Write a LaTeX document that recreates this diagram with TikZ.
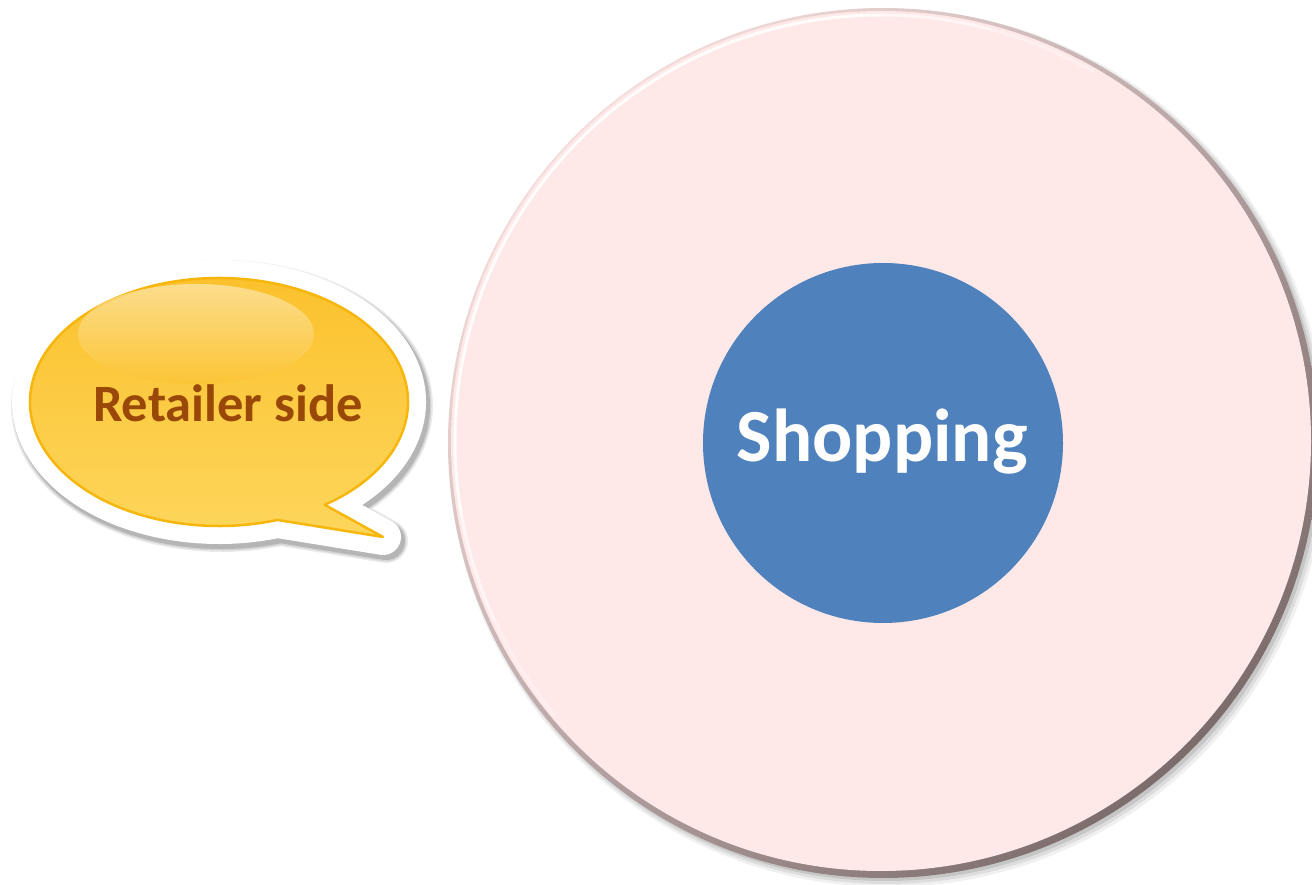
\documentclass[tikz,border=0pt]{standalone}
\usepackage{fontspec}
\setmainfont{Carlito}
\usetikzlibrary{calc}
\definecolor{pinkfill}{HTML}{FFE9E8}
\definecolor{rimlight}{HTML}{F4DCDC}
\definecolor{rimdark}{HTML}{7C6C6C}
\definecolor{blueball}{HTML}{4F81BD}
\definecolor{yeltop}{HTML}{FBC02A}
\definecolor{yelbot}{HTML}{FDD65C}
\definecolor{yelborder}{HTML}{F7B60C}
\definecolor{browntext}{HTML}{9A4807}
\tikzset{
  bigtext/.style={font=\bfseries\fontsize{75}{84}\selectfont, text=white},
  bubbletext/.style={font=\bfseries\fontsize{52.5}{58}\selectfont, text=browntext},
  bubshadow/.style={black, line join=round, shift={(3,-4)}},
}
\begin{document}
\begin{tikzpicture}[x=1pt,y=1pt]
\useasboundingbox (0,0) rectangle (1312,884);
\clip (0,0) rectangle (1312,884);
% ---------- big circle ----------
\fill[black,opacity=0.06] (888,436) circle (439);
\fill[black,opacity=0.08] (887,437) circle (437);
\fill[black,opacity=0.10] (886,438) circle (435);
\shade[top color=rimlight, bottom color=rimdark, shading angle=45] (883,441) circle (435);
\fill[pinkfill] (881,443) circle (430);
\foreach \a/\b/\o in {60/75/0.3, 75/90/0.6, 90/190/0.9, 190/205/0.6, 205/220/0.3}{
  \draw[white, line width=3pt, opacity=\o] (881,443) ++(\a:426) arc[start angle=\a, end angle=\b, radius=426];
}
\node[circle, fill=blueball, minimum size=360pt, inner sep=0pt] (core) at (883,441) {};
\node[bigtext] (shop) at (882,442) {Shopping};
% ---------- speech bubble ----------
\def\bubble{(219,482) ++(-56:189 and 124) arc[start angle=-56, end angle=288, x radius=189, y radius=124] -- (383,347) -- cycle}
\draw[bubshadow, opacity=0.08, line width=44pt] \bubble;
\draw[bubshadow, opacity=0.10, line width=41pt] \bubble;
\draw[bubshadow, opacity=0.14, line width=38pt] \bubble;
\draw[white, line width=36pt, line join=round] \bubble;
\shade[top color=yeltop, bottom color=yelbot, draw=yelborder, line width=2.5pt, line join=round] \bubble;
\shade[top color=white, bottom color=yeltop, opacity=0.45] (196,550) ellipse [x radius=118, y radius=50];
\node[bubbletext] (ret) at (228,481) {Retailer side};
\end{tikzpicture}
\end{document}
